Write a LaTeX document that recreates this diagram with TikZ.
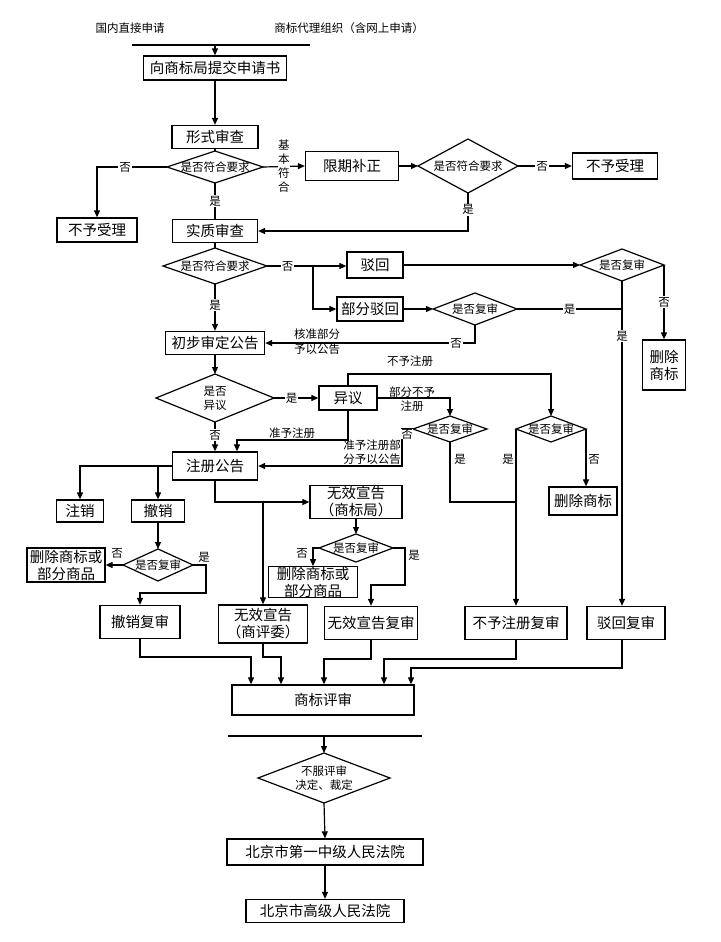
\documentclass[tikz,border=0pt]{standalone}
\usepackage{fontspec}
\setmainfont{Liberation Serif}
\newfontfamily\cjk{Noto Sans CJK SC}
\usetikzlibrary{arrows.meta,calc}
\newcommand\mybf{\cjk\fontsize{14.5}{17}\selectfont}
\newcommand\mysf{\cjk\fontsize{11.5}{14}\selectfont}
\newcommand\mydia[6]{%
  \coordinate (#1-t) at (#2,{#3-#5});
  \coordinate (#1-b) at (#2,{#3+#5});
  \coordinate (#1-l) at ({#2-#4},#3);
  \coordinate (#1-r) at ({#2+#4},#3);
  \draw[dline] (#1-t) -- (#1-r) -- (#1-b) -- (#1-l) -- cycle;
  \node[dtext] (#1) at (#2,#3) {#6};}
\begin{document}
\begin{tikzpicture}[x=1pt,y=-1pt,
 box/.style={draw,line width=1.3pt,inner sep=0pt,align=center,font=\mybf},
 wh/.style args={#1/#2}{minimum width=#1pt,minimum height=#2pt},
 dline/.style={line width=1.2pt,line join=miter},
 dtext/.style={inner sep=0pt,align=center,font=\mysf},
 lbl/.style={inner sep=1pt,font=\mysf,align=center},
 wl/.style={lbl,fill=white},
 conn/.style={line width=1.2pt},
 arr/.style={conn,-{Triangle[length=7pt,width=6pt]}}]
\path[use as bounding box] (0,0) rectangle (720,942);

% top
\node[lbl] (src1) at (130,28) {国内直接申请};
\node[lbl] (src2) at (349,28) {商标代理组织（含网上申请）};
\coordinate (barL) at (132,45);
\coordinate (barR) at (310,45);
\draw[conn] (barL) -- (barR);

% boxes
\node[box,wh=143/24] (b1) at (215,68) {向商标局提交申请书};
\node[box,wh=86/23] (b2) at (215,137) {形式审查};
\node[box,wh=80/24] (b3) at (97,230) {不予受理};
\node[box,wh=85/23] (b4) at (215,231) {实质审查};
\node[box,wh=93/29] (b5) at (352,166) {限期补正};
\node[box,wh=85/26] (b6) at (615,166) {不予受理};
\node[box,wh=56/26] (b7) at (375,265) {驳回};
\node[box,wh=66/24] (b8) at (370,309) {部分驳回};
\node[box,wh=43/50] (b9) at (664,365) {删除\\商标};
\node[box,wh=99/23] (b10) at (215,343) {初步审定公告};
\node[box,wh=58/24] (b11) at (348,398) {异议};
\node[box,wh=85/28] (b12) at (215,466) {注册公告};
\node[box,wh=68/28] (b13) at (583,501) {删除商标};
\node[box,wh=47/22] (b14) at (80,511) {注销};
\node[box,wh=53/22] (b15) at (158,511) {撤销};
\node[box,wh=92/33] (b16) at (356,502) {无效宣告\\（商标局）};
\node[box,wh=78/34] (b17) at (66,565) {删除商标或\\部分商品};
\node[box,wh=89/29] (b18) at (313,582) {删除商标或\\部分商品};
\node[box,wh=80/33] (b19) at (140,622) {撤销复审};
\node[box,wh=89/38] (b20) at (263,624) {无效宣告\\（商评委）};
\node[box,wh=93/33] (b21) at (371,623) {无效宣告复审};
\node[box,wh=102/33] (b22) at (516,623) {不予注册复审};
\node[box,wh=78/33] (b23) at (626,623) {驳回复审};
\node[box,wh=182/30] (b24) at (323,700) {商标评审};
\node[box,wh=196/26] (b25) at (325,852) {北京市第一中级人民法院};
\node[box,wh=158/23] (b26) at (325,911) {北京市高级人民法院};

% diamonds
\mydia{d1}{215}{167}{48}{16}{是否符合要求}
\mydia{d2}{468}{166}{50}{27}{是否符合要求}
\mydia{d3}{215}{266}{52}{18}{是否符合要求}
\mydia{d4}{622}{265}{42}{16}{是否复审}
\mydia{d5}{475}{309}{42}{16}{是否复审}
\mydia{d6}{215}{398}{59}{24}{是否\\异议}
\mydia{d7}{450}{429}{37}{13}{是否复审}
\mydia{d8}{551}{429}{35}{13}{是否复审}
\mydia{d9}{356}{548}{37}{14}{是否复审}
\mydia{d10}{158}{565}{35}{16}{是否复审}
\mydia{d11}{324}{778}{66}{25}{不服评审\\决定、裁定}

% connectors
\draw[arr] (b1.north |- barL) -- (b1.north);
\draw[arr] (b1.south) -- (b2.north);
\draw[conn] (b2.south) -- (d1-t);
\draw[arr] (d1-l) -| (b3.north) node[pos=0.3,wl]{否};
\draw[conn] (d1-b) -- (b4.north) node[pos=0.5,wl]{是};
\draw[arr] (d1-r) -- (b5.west) node[pos=0.5,wl,inner sep=0.5pt]{基\\本\\符\\合};
\draw[arr] (b5.east) -- (d2-l);
\draw[arr] (d2-r) -- (b6.west) node[pos=0.45,wl]{否};
\draw[arr] (d2-b) |- (b4.east) node[pos=0.22,wl]{是};
\draw[conn] (b4.south) -- (d3-t);

\coordinate (sp1) at (313,266);
\draw[conn] (d3-r) -- (sp1) node[pos=0.45,wl]{否};
\draw[arr] (sp1) -- (sp1 -| b7.west);
\draw[arr] (sp1) |- (b8.west);
\draw[arr] (d3-b) -- (b10.north) node[pos=0.45,wl]{是};
\draw[arr] (b7.east) -- (d4-l |- b7.east);
\draw[arr] (d4-r) -- (b9.north) node[pos=0.5,wl]{否};
\draw[arr] (d4-b) -- (d4-b |- b23.north) node[pos=0.17,wl]{是};
\draw[arr] (b8.east) -- (d5-l);
\draw[conn] (d5-r) -- (d4-b |- d5-r) node[pos=0.5,wl]{是};
\draw[arr] (d5-b) |- (b10.east) node[pos=0.545,wl]{否};
\node[lbl,font=\cjk\fontsize{11.5}{15}\selectfont] (lb1) at (317,342) {核准部分\\予以公告};

\draw[arr] (b10.south) -- (d6-t);
\draw[arr] (d6-r) -- (b11.west) node[pos=0.4,wl]{是};
\draw[arr] (d6-b) -- (b12.north) node[pos=0.45,wl]{否};

\coordinate (c1) at (551,374);
\draw[arr] (b11.north) |- (c1) -- (d8-t);
\node[lbl] (lb2) at (410,361) {不予注册};
\draw[arr] (b11.east) -| (d7-t);
\node[lbl,font=\cjk\fontsize{11.5}{14}\selectfont] (lb3) at (412,399) {部分不予\\注册};

\coordinate (c2) at (237,440);
\draw[arr] (b11.south) |- (c2) -- (c2 |- b12.north);
\node[lbl] (lb4) at (292,433) {准予注册};

\coordinate (c3) at (402,466);
\draw[arr] (d7-l) -| (c3) -- (c3 -| b12.east);
\node[wl,inner sep=0pt] (lb5) at (407,434) {否};
\node[lbl] (lb6) at (372,452) {准予注册部\\分予以公告};

\coordinate (c4) at (516,502);
\draw[conn] (d7-b) |- (c4);
\node[lbl] (lb7) at (460,459) {是};
\draw[arr] (d8-l) -- (d8-l |- b22.north);
\node[lbl] (lb8) at (508,459) {是};
\draw[arr] (d8-r) -- (d8-r |- b13.north);
\node[lbl] (lb9) at (594,459) {否};

\draw[arr] (b12.west) -| (b14.north);
\draw[arr] (b15.north |- b12.west) -- (b15.north);
\draw[arr] (b12.south) |- (b16.west);
\draw[arr] (b20.north |- b16.west) -- (b20.north);

\draw[arr] (b16.south) -- (d9-t);
\draw[arr] (d9-l) -| (b18.north);
\node[lbl] (lb10) at (302,553) {否};
\coordinate (c5) at (405,585);
\draw[arr] (d9-r) -| (c5) -| (b21.north);
\node[lbl] (lb11) at (414,555) {是};

\draw[arr] (b15.south) -- (d10-t);
\draw[arr] (d10-l) -- (b17.east);
\node[lbl] (lb12) at (117,553) {否};
\coordinate (c6) at (206,593);
\draw[arr] (d10-r) -| (c6) -| (b19.north);
\node[lbl] (lb13) at (204,557) {是};

% to 商标评审
\coordinate (e1) at (251,657);
\coordinate (e2) at (281,657);
\coordinate (e3) at (324,659);
\coordinate (e4) at (384,659);
\coordinate (e5) at (411,668);
\draw[arr] (b19.south) |- (e1) -- (e1 |- b24.north);
\draw[arr] (b20.south) |- (e2) -- (e2 |- b24.north);
\draw[arr] (b21.south) |- (e3) -- (e3 |- b24.north);
\draw[arr] (b22.south) |- (e4) -- (e4 |- b24.north);
\draw[arr] (d4-b |- b23.south) |- (e5) -- (e5 |- b24.north);

% bottom
\coordinate (bar2L) at (228,736);
\coordinate (bar2R) at (422,736);
\draw[conn] (bar2L) -- (bar2R);
\draw[arr] (d11-t |- bar2L) -- (d11-t);
\draw[arr] (d11-b) -- (b25.north);
\draw[arr] (b25.south) -- (b26.north);
\end{tikzpicture}
\end{document}
